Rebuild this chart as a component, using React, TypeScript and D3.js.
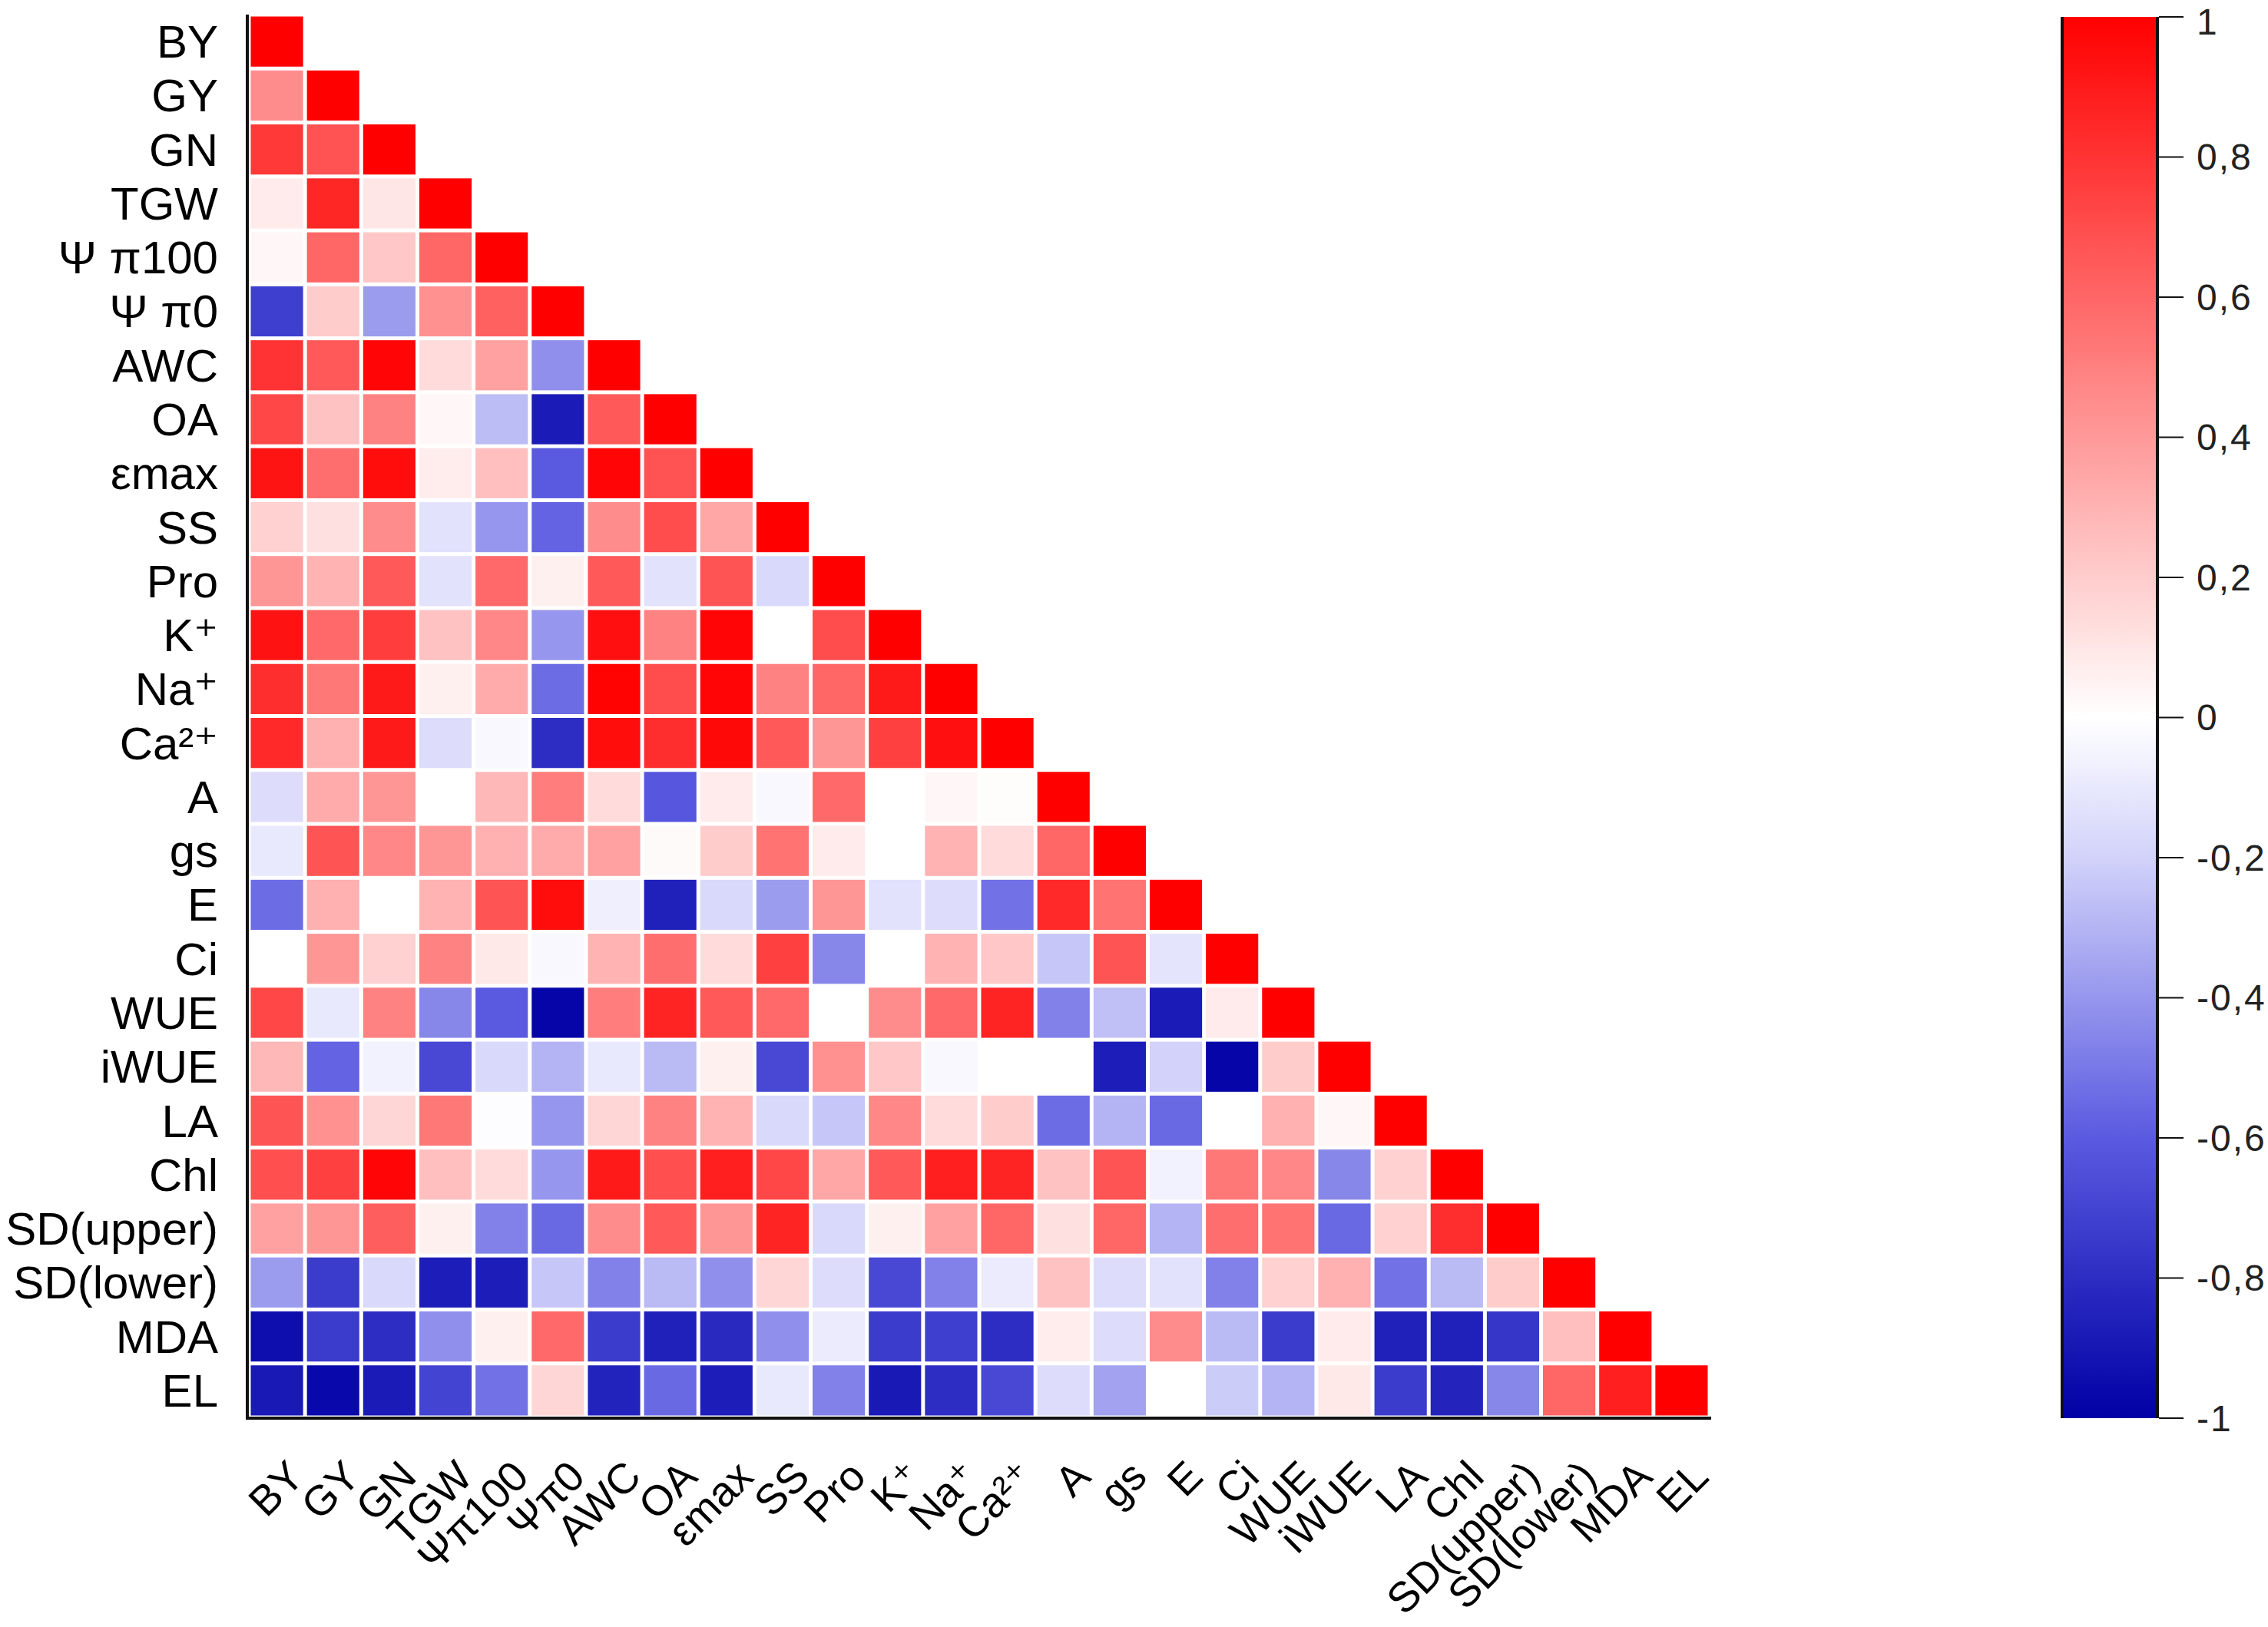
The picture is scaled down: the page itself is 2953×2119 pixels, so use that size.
import React from "react";
import * as d3 from "d3";

const categories = ["BY", "GY", "GN", "TGW", "Ψπ100", "Ψπ0", "AWC", "OA", "εmax", "SS", "Pro", "K⁺", "Na⁺", "Ca²⁺", "A", "gs", "E", "Ci", "WUE", "iWUE", "LA", "Chl", "SD(upper)", "SD(lower)", "MDA", "EL"];

// lower-triangle correlations: each row holds r with the preceding variables
const rowBY: number[] = [];
const rowGY = [0.45];
const rowGN = [0.78, 0.68];
const rowTGW = [0.08, 0.85, 0.10];
const rowPsi100 = [0.03, 0.60, 0.22, 0.60];
const rowPsi0 = [-0.72, 0.20, -0.38, 0.43, 0.62];
const rowAWC = [0.80, 0.65, 0.98, 0.14, 0.37, -0.42];
const rowOA = [0.72, 0.24, 0.49, 0.03, -0.27, -0.88, 0.65];
const rowEmax = [0.92, 0.57, 0.95, 0.07, 0.25, -0.60, 0.98, 0.68];
const rowSS = [0.18, 0.12, 0.45, -0.13, -0.40, -0.57, 0.45, 0.70, 0.35];
const rowPro = [0.41, 0.30, 0.65, -0.13, 0.59, 0.06, 0.65, -0.13, 0.67, -0.17];
const rowK = [0.93, 0.59, 0.76, 0.24, 0.47, -0.40, 0.94, 0.49, 0.98, 0.00, 0.70];
const rowNa = [0.82, 0.53, 0.90, 0.06, 0.33, -0.54, 0.99, 0.70, 0.98, 0.49, 0.60, 0.90];
const rowCa = [0.84, 0.31, 0.90, -0.15, -0.03, -0.80, 0.95, 0.82, 0.97, 0.65, 0.41, 0.75, 0.94];
const rowA = [-0.15, 0.33, 0.41, 0.00, 0.28, 0.51, 0.14, -0.62, 0.08, -0.03, 0.59, 0.00, 0.03, 0.01];
const rowGs = [-0.10, 0.67, 0.47, 0.41, 0.31, 0.33, 0.37, 0.02, 0.20, 0.55, 0.08, 0.00, 0.30, 0.14, 0.60];
const rowE = [-0.54, 0.31, 0.00, 0.30, 0.67, 0.95, -0.07, -0.86, -0.17, -0.38, 0.41, -0.13, -0.15, -0.52, 0.84, 0.55];
const rowCi = [0.00, 0.41, 0.18, 0.49, 0.09, -0.03, 0.30, 0.57, 0.14, 0.75, -0.45, 0.00, 0.30, 0.22, -0.24, 0.67, -0.12];
const rowWUE = [0.72, -0.10, 0.49, -0.45, -0.60, -0.98, 0.51, 0.86, 0.65, 0.59, 0.00, 0.45, 0.59, 0.86, -0.47, -0.26, -0.88, 0.08];
const rowIWUE = [0.28, -0.57, -0.06, -0.68, -0.17, -0.30, -0.10, -0.28, 0.06, -0.68, 0.43, 0.22, -0.03, 0.00, 0.00, -0.87, -0.20, -0.98, 0.20];
const rowLA = [0.67, 0.43, 0.16, 0.53, -0.01, -0.40, 0.16, 0.49, 0.30, -0.17, -0.24, 0.47, 0.14, 0.20, -0.54, -0.30, -0.55, 0.00, 0.31, 0.03];
const rowChl = [0.69, 0.75, 0.98, 0.25, 0.14, -0.40, 0.90, 0.69, 0.88, 0.72, 0.35, 0.65, 0.88, 0.86, 0.24, 0.67, -0.06, 0.53, 0.47, -0.45, 0.18];
const rowSDu = [0.37, 0.41, 0.63, 0.06, -0.47, -0.55, 0.45, 0.65, 0.41, 0.86, -0.17, 0.06, 0.37, 0.60, 0.12, 0.60, -0.30, 0.57, 0.55, -0.55, 0.18, 0.82];
const rowSDl = [-0.38, -0.74, -0.17, -0.87, -0.87, -0.24, -0.47, -0.28, -0.42, 0.16, -0.15, -0.68, -0.47, -0.09, 0.24, -0.15, -0.13, -0.47, 0.18, 0.31, -0.52, -0.28, 0.20];
const rowMDA = [-0.94, -0.74, -0.80, -0.42, 0.06, 0.59, -0.74, -0.86, -0.82, -0.42, -0.09, -0.74, -0.72, -0.80, 0.07, -0.15, 0.45, -0.28, -0.74, 0.08, -0.86, -0.86, -0.76, 0.25];
const rowEL = [-0.89, -0.96, -0.88, -0.70, -0.52, 0.16, -0.85, -0.55, -0.87, -0.10, -0.47, -0.89, -0.80, -0.68, -0.15, -0.36, 0.00, -0.22, -0.30, 0.09, -0.74, -0.84, -0.45, 0.60, 0.88];

const lowerRows = [rowBY, rowGY, rowGN, rowTGW, rowPsi100, rowPsi0, rowAWC, rowOA, rowEmax, rowSS, rowPro, rowK, rowNa, rowCa, rowA, rowGs, rowE, rowCi, rowWUE, rowIWUE, rowLA, rowChl, rowSDu, rowSDl, rowMDA, rowEL];

const colorStops = [-1, -0.6, -0.2, 0, 1];
const colorRange = ["#0000A5", "#5A5AE1", "#D2D2FA", "#FFFFFF", "#FF0000"];
const colorbarTicks = [1, 0.8, 0.6, 0.4, 0.2, 0, -0.2, -0.4, -0.6, -0.8, -1];

const W = 2953;
const H = 2119;
const FONT = "'Liberation Sans', Arial, 'DejaVu Sans', sans-serif";

function fmtTick(v: number): string {
  if (v === 0) return "0";
  if (Math.abs(v) === 1) return v < 0 ? "-1" : "1";
  return (v < 0 ? "-" : "") + Math.abs(v).toFixed(1).replace(".", ",");
}

export default function App() {
  const left = 324, top = 19, plotW = 1902, plotH = 1827;
  const x = d3.scaleBand<string>().domain(categories).range([left, left + plotW]);
  const y = d3.scaleBand<string>().domain(categories).range([top, top + plotH]);
  const color = d3.scaleLinear<string>().domain(colorStops).range(colorRange).interpolate(d3.interpolateRgb).clamp(true);

  const cells: { i: number; j: number; v: number }[] = [];
  lowerRows.forEach((row, i) => {
    [...row, 1].forEach((v, j) => cells.push({ i, j, v }));
  });

  const gap = 5;
  const cbX0 = 2687, cbX1 = 2807, cbTop = 22, cbBottom = 1847;
  const cbY = d3.scaleLinear().domain([-1, 1]).range([cbBottom, cbTop]);
  const gradStops = d3.range(0, 101).map((k) => {
    const v = 1 - (2 * k) / 100;
    return { off: k, c: color(v) };
  });

  return (
    <svg width={W} height={H} style={{ position: "absolute", left: 0, top: 0, background: "#fff" }} fontFamily={FONT}>
      <defs>
        <linearGradient id="cbgrad" x1="0" y1="0" x2="0" y2="1">
          {gradStops.map((s) => (
            <stop key={s.off} offset={`${s.off}%`} stopColor={s.c} />
          ))}
        </linearGradient>
      </defs>
      <rect x={0} y={0} width={W} height={H} fill="#fff" />
      <g>
        {cells.map((d) => (
          <rect
            key={`${d.i}-${d.j}`}
            x={(x(categories[d.j]) as number) + gap / 2}
            y={(y(categories[d.i]) as number) + gap / 2}
            width={x.bandwidth() - gap}
            height={y.bandwidth() - gap}
            fill={color(d.v)}
          />
        ))}
      </g>
      <line x1={322} x2={322} y1={top} y2={top + plotH + 2} stroke="#111" strokeWidth={4} />
      <line x1={320} x2={left + plotW + 2} y1={top + plotH + 1} y2={top + plotH + 1} stroke="#111" strokeWidth={4} />
      <g fontSize={60} fill="#000">
        {categories.map((c) => (
          <text key={c} x={284} y={(y(c) as number) + y.bandwidth() / 2} dy="0.35em" textAnchor="end">
            {c.replace("Ψπ", "Ψ π")}
          </text>
        ))}
      </g>
      <g fontSize={55} fill="#000">
        {categories.map((c) => {
          const cx = (x(c) as number) + x.bandwidth() / 2 + 38;
          const cy = 1926;
          return (
            <text key={c} transform={`translate(${cx},${cy}) rotate(-45)`} textAnchor="end">
              {c}
            </text>
          );
        })}
      </g>
      <rect x={cbX0} y={cbTop} width={cbX1 - cbX0} height={cbBottom - cbTop} fill="url(#cbgrad)" />
      <line x1={cbX0 - 2} x2={cbX0 - 2} y1={cbTop} y2={cbBottom} stroke="#111" strokeWidth={4} />
      <line x1={cbX1 + 2} x2={cbX1 + 2} y1={cbTop} y2={cbBottom} stroke="#111" strokeWidth={4} />
      <g fontSize={48} fill="#222" letterSpacing={2}>
        {colorbarTicks.map((t) => (
          <g key={t}>
            <line x1={cbX1 + 4} x2={2843} y1={cbY(t)} y2={cbY(t)} stroke="#111" strokeWidth={2} />
            <text x={2860} y={Math.max(cbY(t), 28)} dy="0.35em">
              {fmtTick(t)}
            </text>
          </g>
        ))}
      </g>
    </svg>
  );
}
